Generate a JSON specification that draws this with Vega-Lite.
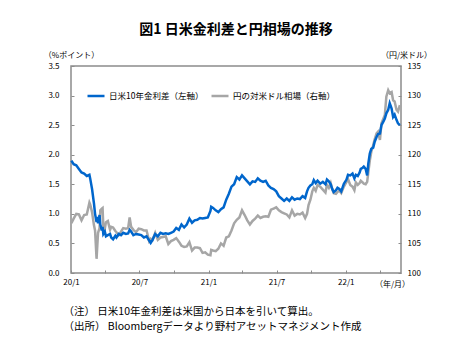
{
  "$schema": "https://vega.github.io/schema/vega-lite/v6.json",
  "width": 330,
  "height": 207,
  "autosize": {"type": "none"},
  "padding": {"left": 71, "top": 66, "right": 73, "bottom": 82},
  "background": "white",
  "config": {
    "font": "Noto Sans CJK JP",
    "view": {"stroke": "#8c8c8c", "strokeWidth": 1.5},
    "axis": {"grid": false, "domain": false, "labelFontSize": 8, "labelColor": "#000000", "tickColor": "#8c8c8c", "tickWidth": 1, "titleFontWeight": "normal", "titleFontSize": 8, "titleColor": "#000000", "labelFont": "Noto Sans CJK JP", "titleFont": "Noto Sans CJK JP"}
  },
  "title": {"text": "図1 日米金利差と円相場の推移", "fontSize": 14, "fontWeight": "bold", "anchor": "middle", "offset": 14, "color": "#000000", "font": "Noto Sans CJK JP"},
  "data": {"values": [
    {"date": "2020-01-02", "spread": 1.90, "yen": 108.4},
    {"date": "2020-01-08", "spread": 1.84, "yen": 109.2},
    {"date": "2020-01-15", "spread": 1.82, "yen": 110.0},
    {"date": "2020-01-22", "spread": 1.76, "yen": 109.9},
    {"date": "2020-01-29", "spread": 1.70, "yen": 108.9},
    {"date": "2020-02-05", "spread": 1.68, "yen": 109.8},
    {"date": "2020-02-12", "spread": 1.64, "yen": 109.9},
    {"date": "2020-02-19", "spread": 1.66, "yen": 111.9},
    {"date": "2020-02-21", "spread": 1.60, "yen": 111.6},
    {"date": "2020-02-26", "spread": 1.42, "yen": 110.3},
    {"date": "2020-03-02", "spread": 1.18, "yen": 108.1},
    {"date": "2020-03-05", "spread": 1.00, "yen": 107.2},
    {"date": "2020-03-09", "spread": 0.86, "yen": 102.4},
    {"date": "2020-03-11", "spread": 0.95, "yen": 104.6},
    {"date": "2020-03-13", "spread": 0.84, "yen": 106.8},
    {"date": "2020-03-17", "spread": 0.98, "yen": 107.6},
    {"date": "2020-03-19", "spread": 0.82, "yen": 110.6},
    {"date": "2020-03-23", "spread": 0.72, "yen": 110.9},
    {"date": "2020-03-25", "spread": 0.78, "yen": 111.0},
    {"date": "2020-03-27", "spread": 0.66, "yen": 107.9},
    {"date": "2020-03-31", "spread": 0.70, "yen": 107.5},
    {"date": "2020-04-03", "spread": 0.62, "yen": 108.6},
    {"date": "2020-04-08", "spread": 0.64, "yen": 108.8},
    {"date": "2020-04-14", "spread": 0.66, "yen": 107.3},
    {"date": "2020-04-17", "spread": 0.60, "yen": 107.8},
    {"date": "2020-04-22", "spread": 0.57, "yen": 107.7},
    {"date": "2020-04-28", "spread": 0.63, "yen": 107.1},
    {"date": "2020-05-01", "spread": 0.60, "yen": 106.9},
    {"date": "2020-05-07", "spread": 0.66, "yen": 106.4},
    {"date": "2020-05-13", "spread": 0.64, "yen": 107.0},
    {"date": "2020-05-19", "spread": 0.68, "yen": 107.6},
    {"date": "2020-05-26", "spread": 0.66, "yen": 107.5},
    {"date": "2020-06-01", "spread": 0.67, "yen": 107.6},
    {"date": "2020-06-05", "spread": 0.73, "yen": 109.4},
    {"date": "2020-06-09", "spread": 0.70, "yen": 107.8},
    {"date": "2020-06-15", "spread": 0.64, "yen": 107.3},
    {"date": "2020-06-22", "spread": 0.66, "yen": 106.9},
    {"date": "2020-06-29", "spread": 0.65, "yen": 107.5},
    {"date": "2020-07-06", "spread": 0.64, "yen": 107.4},
    {"date": "2020-07-13", "spread": 0.60, "yen": 107.2},
    {"date": "2020-07-20", "spread": 0.62, "yen": 107.2},
    {"date": "2020-07-27", "spread": 0.55, "yen": 105.4},
    {"date": "2020-07-31", "spread": 0.51, "yen": 105.8},
    {"date": "2020-08-05", "spread": 0.56, "yen": 105.6},
    {"date": "2020-08-12", "spread": 0.66, "yen": 106.8},
    {"date": "2020-08-19", "spread": 0.62, "yen": 105.6},
    {"date": "2020-08-26", "spread": 0.68, "yen": 106.0},
    {"date": "2020-09-02", "spread": 0.66, "yen": 106.1},
    {"date": "2020-09-09", "spread": 0.67, "yen": 106.2},
    {"date": "2020-09-16", "spread": 0.66, "yen": 104.9},
    {"date": "2020-09-23", "spread": 0.68, "yen": 105.4},
    {"date": "2020-09-30", "spread": 0.70, "yen": 105.6},
    {"date": "2020-10-07", "spread": 0.76, "yen": 105.9},
    {"date": "2020-10-14", "spread": 0.73, "yen": 105.3},
    {"date": "2020-10-21", "spread": 0.82, "yen": 104.6},
    {"date": "2020-10-28", "spread": 0.77, "yen": 104.4},
    {"date": "2020-11-04", "spread": 0.82, "yen": 104.5},
    {"date": "2020-11-11", "spread": 0.92, "yen": 105.2},
    {"date": "2020-11-18", "spread": 0.85, "yen": 103.8},
    {"date": "2020-11-25", "spread": 0.89, "yen": 104.3},
    {"date": "2020-12-02", "spread": 0.90, "yen": 104.3},
    {"date": "2020-12-09", "spread": 0.93, "yen": 104.2},
    {"date": "2020-12-16", "spread": 0.92, "yen": 103.4},
    {"date": "2020-12-23", "spread": 0.93, "yen": 103.5},
    {"date": "2020-12-30", "spread": 0.94, "yen": 103.1},
    {"date": "2021-01-06", "spread": 1.05, "yen": 103.0},
    {"date": "2021-01-08", "spread": 1.12, "yen": 103.9},
    {"date": "2021-01-13", "spread": 1.10, "yen": 103.8},
    {"date": "2021-01-20", "spread": 1.06, "yen": 103.7},
    {"date": "2021-01-27", "spread": 1.03, "yen": 104.1},
    {"date": "2021-02-03", "spread": 1.08, "yen": 105.0},
    {"date": "2021-02-10", "spread": 1.11, "yen": 104.6},
    {"date": "2021-02-17", "spread": 1.24, "yen": 106.0},
    {"date": "2021-02-24", "spread": 1.34, "yen": 106.2},
    {"date": "2021-03-03", "spread": 1.46, "yen": 107.2},
    {"date": "2021-03-10", "spread": 1.50, "yen": 108.4},
    {"date": "2021-03-17", "spread": 1.62, "yen": 109.0},
    {"date": "2021-03-24", "spread": 1.58, "yen": 109.4},
    {"date": "2021-03-31", "spread": 1.65, "yen": 110.6},
    {"date": "2021-04-07", "spread": 1.60, "yen": 109.8},
    {"date": "2021-04-14", "spread": 1.55, "yen": 108.9},
    {"date": "2021-04-21", "spread": 1.50, "yen": 108.2},
    {"date": "2021-04-28", "spread": 1.55, "yen": 108.8},
    {"date": "2021-05-05", "spread": 1.54, "yen": 109.2},
    {"date": "2021-05-12", "spread": 1.60, "yen": 109.7},
    {"date": "2021-05-19", "spread": 1.56, "yen": 109.3},
    {"date": "2021-05-26", "spread": 1.54, "yen": 109.5},
    {"date": "2021-06-02", "spread": 1.56, "yen": 109.6},
    {"date": "2021-06-09", "spread": 1.48, "yen": 109.5},
    {"date": "2021-06-16", "spread": 1.44, "yen": 110.7},
    {"date": "2021-06-23", "spread": 1.42, "yen": 110.9},
    {"date": "2021-06-30", "spread": 1.38, "yen": 111.1},
    {"date": "2021-07-07", "spread": 1.30, "yen": 110.6},
    {"date": "2021-07-14", "spread": 1.26, "yen": 110.3},
    {"date": "2021-07-21", "spread": 1.22, "yen": 110.1},
    {"date": "2021-07-28", "spread": 1.26, "yen": 109.9},
    {"date": "2021-08-04", "spread": 1.22, "yen": 109.4},
    {"date": "2021-08-11", "spread": 1.28, "yen": 110.6},
    {"date": "2021-08-18", "spread": 1.24, "yen": 109.7},
    {"date": "2021-08-25", "spread": 1.26, "yen": 110.0},
    {"date": "2021-09-01", "spread": 1.25, "yen": 109.9},
    {"date": "2021-09-08", "spread": 1.30, "yen": 110.2},
    {"date": "2021-09-15", "spread": 1.27, "yen": 109.3},
    {"date": "2021-09-20", "spread": 1.38, "yen": 110.0},
    {"date": "2021-09-24", "spread": 1.44, "yen": 111.5},
    {"date": "2021-09-29", "spread": 1.48, "yen": 112.4},
    {"date": "2021-10-04", "spread": 1.50, "yen": 113.8},
    {"date": "2021-10-08", "spread": 1.57, "yen": 114.4},
    {"date": "2021-10-13", "spread": 1.52, "yen": 113.9},
    {"date": "2021-10-18", "spread": 1.56, "yen": 114.9},
    {"date": "2021-10-25", "spread": 1.51, "yen": 114.6},
    {"date": "2021-11-01", "spread": 1.54, "yen": 114.1},
    {"date": "2021-11-08", "spread": 1.50, "yen": 113.6},
    {"date": "2021-11-12", "spread": 1.58, "yen": 114.9},
    {"date": "2021-11-17", "spread": 1.55, "yen": 114.4},
    {"date": "2021-11-22", "spread": 1.50, "yen": 115.2},
    {"date": "2021-11-26", "spread": 1.42, "yen": 114.2},
    {"date": "2021-11-30", "spread": 1.37, "yen": 113.5},
    {"date": "2021-12-06", "spread": 1.40, "yen": 113.4},
    {"date": "2021-12-10", "spread": 1.44, "yen": 113.7},
    {"date": "2021-12-15", "spread": 1.42, "yen": 113.9},
    {"date": "2021-12-20", "spread": 1.38, "yen": 113.5},
    {"date": "2021-12-27", "spread": 1.51, "yen": 114.6},
    {"date": "2022-01-03", "spread": 1.58, "yen": 115.4},
    {"date": "2022-01-07", "spread": 1.66, "yen": 115.9},
    {"date": "2022-01-13", "spread": 1.65, "yen": 114.9},
    {"date": "2022-01-19", "spread": 1.68, "yen": 114.6},
    {"date": "2022-01-24", "spread": 1.60, "yen": 114.0},
    {"date": "2022-01-28", "spread": 1.66, "yen": 115.3},
    {"date": "2022-02-02", "spread": 1.64, "yen": 114.9},
    {"date": "2022-02-07", "spread": 1.70, "yen": 115.2},
    {"date": "2022-02-10", "spread": 1.76, "yen": 115.6},
    {"date": "2022-02-15", "spread": 1.78, "yen": 115.3},
    {"date": "2022-02-18", "spread": 1.80, "yen": 115.1},
    {"date": "2022-02-23", "spread": 1.76, "yen": 115.0},
    {"date": "2022-02-27", "spread": 1.65, "yen": 115.4},
    {"date": "2022-03-02", "spread": 1.85, "yen": 117.0},
    {"date": "2022-03-06", "spread": 2.02, "yen": 119.0},
    {"date": "2022-03-10", "spread": 2.10, "yen": 120.5},
    {"date": "2022-03-15", "spread": 2.12, "yen": 121.6},
    {"date": "2022-03-19", "spread": 2.22, "yen": 122.6},
    {"date": "2022-03-24", "spread": 2.30, "yen": 123.6},
    {"date": "2022-03-28", "spread": 2.35, "yen": 123.9},
    {"date": "2022-04-02", "spread": 2.36, "yen": 122.5},
    {"date": "2022-04-06", "spread": 2.50, "yen": 125.3},
    {"date": "2022-04-11", "spread": 2.56, "yen": 126.1},
    {"date": "2022-04-15", "spread": 2.61, "yen": 126.7},
    {"date": "2022-04-19", "spread": 2.70, "yen": 129.8},
    {"date": "2022-04-24", "spread": 2.76, "yen": 130.9},
    {"date": "2022-04-28", "spread": 2.87, "yen": 130.4},
    {"date": "2022-05-03", "spread": 2.78, "yen": 130.6},
    {"date": "2022-05-07", "spread": 2.64, "yen": 129.2},
    {"date": "2022-05-11", "spread": 2.68, "yen": 129.0},
    {"date": "2022-05-16", "spread": 2.59, "yen": 127.6},
    {"date": "2022-05-20", "spread": 2.53, "yen": 127.3},
    {"date": "2022-05-25", "spread": 2.50, "yen": 128.4}
  ]},
  "layer": [
    {
      "mark": {"type": "line", "strokeWidth": 2.5},
      "encoding": {
        "x": {"field": "date", "type": "temporal",
          "scale": {"domain": [{"year": 2020, "month": 1, "date": 1}, {"year": 2022, "month": 5, "date": 28}]},
          "axis": {"orient": "bottom", "domain": false, "ticks": false, "labels": false,
            "title": ["（注） 日米10年金利差は米国から日本を引いて算出。", "（出所） Bloombergデータより野村アセットマネジメント作成"],
            "titleFontSize": 10.5, "titleAnchor": "start", "titleAlign": "left", "titleBaseline": "top", "titleX": -8, "titleY": 33, "titleLineHeight": 15}},
        "y": {"field": "yen", "type": "quantitative",
          "scale": {"domain": [100, 135], "nice": false, "zero": false},
          "axis": {"orient": "right", "values": [100, 105, 110, 115, 120, 125, 130, 135], "tickSize": -3, "labelPadding": 9,
            "title": "（円/米ドル）", "titleAngle": 0, "titleX": 5, "titleY": -11, "titleAlign": "center", "titleBaseline": "middle"}},
        "color": {"datum": "円の対米ドル相場（右軸）", "type": "nominal"}
      }
    },
    {
      "mark": {"type": "line", "strokeWidth": 2.5},
      "encoding": {
        "x": {"field": "date", "type": "temporal",
          "axis": {"orient": "bottom",
            "values": [{"year": 2020, "month": 1, "date": 1}, {"year": 2020, "month": 4, "date": 1}, {"year": 2020, "month": 7, "date": 1}, {"year": 2020, "month": 10, "date": 1}, {"year": 2021, "month": 1, "date": 1}, {"year": 2021, "month": 4, "date": 1}, {"year": 2021, "month": 7, "date": 1}, {"year": 2021, "month": 10, "date": 1}, {"year": 2022, "month": 1, "date": 1}, {"year": 2022, "month": 4, "date": 1}],
            "labelExpr": "month(datum.value) % 6 == 0 ? timeFormat(datum.value, '%y') + '/' + (month(datum.value) + 1) : ''",
            "tickSize": -3, "labelPadding": 8, "labelFlush": false, "labelOverlap": false,
            "title": "（年/月）", "titleX": 321, "titleY": 11, "titleAlign": "center", "titleBaseline": "middle"}},
        "y": {"field": "spread", "type": "quantitative",
          "scale": {"domain": [0, 3.5], "nice": false},
          "axis": {"orient": "left", "values": [0, 0.5, 1, 1.5, 2, 2.5, 3, 3.5], "format": ".1f", "tickSize": -3, "labelPadding": 15,
            "title": "（%ポイント）", "titleAngle": 0, "titleX": 0, "titleY": -11, "titleAlign": "center", "titleBaseline": "middle"}},
        "color": {"datum": "日米10年金利差（左軸）", "type": "nominal",
          "scale": {"domain": ["日米10年金利差（左軸）", "円の対米ドル相場（右軸）"], "range": ["#0066cc", "#a6a6a6"]},
          "legend": {"orient": "none", "legendX": 15, "legendY": 20, "direction": "horizontal", "title": null,
            "symbolType": "stroke", "symbolStrokeWidth": 2.5, "symbolSize": 289, "labelFontSize": 8.5, "labelOffset": 3,
            "columnPadding": 2, "padding": 0, "labelColor": "#000000", "labelFont": "Noto Sans CJK JP"}}
      }
    }
  ],
  "resolve": {"scale": {"y": "independent"}, "axis": {"x": "independent"}}
}
